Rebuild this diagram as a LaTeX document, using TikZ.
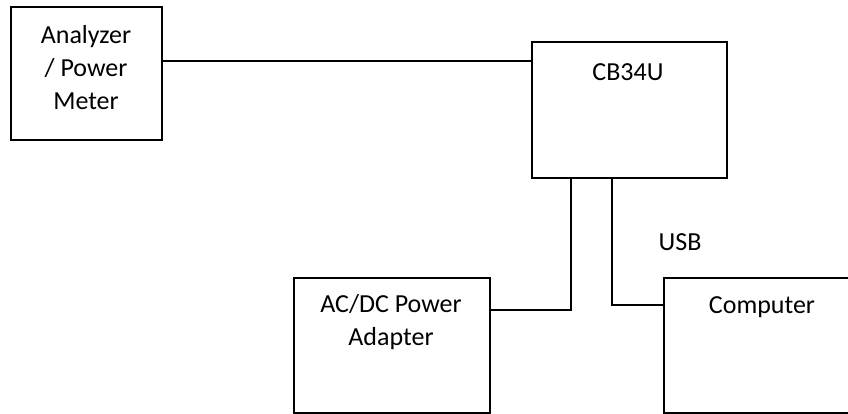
\documentclass[tikz,border=0pt]{standalone}
\usepackage{fontspec}
\setmainfont{Carlito}
\usetikzlibrary{positioning}

\begin{document}
\begin{tikzpicture}[x=1pt,y=-1pt,line width=1.6pt,
      box/.style={draw,rectangle,inner sep=0pt},
      txt/.style={font=\fontsize{26}{33}\selectfont,align=center,inner sep=0pt}]
      \useasboundingbox (0,0) rectangle (848,414);

      \node[box,minimum width=151pt,minimum height=133pt] (ana) at (86.5,73.5) {};
      \node[box,minimum width=195pt,minimum height=136pt] (cb) at (629.5,110) {};
      \node[box,minimum width=196pt,minimum height=135pt] (acdc) at (392,345.5) {};
      \node[box,minimum width=210pt,minimum height=135pt] (comp) at (769,345.5) {};

      \node[txt] (anatxt) at (86,68) {Analyzer\\/ Power\\Meter};
      \node[txt] (cbtxt) at (628,72) {CB34U};
      \node[txt] (acdctxt) at (391,322) {AC/DC Power\\Adapter};
      \node[txt] (comptxt) at (762,307) {Computer};
      \node[txt] (usb) at (680,242) {USB};

      \coordinate (ain) at ([yshift=12.5pt]ana.east);
      \coordinate (pwr) at ([xshift=-58.5pt]cb.south);
      \coordinate (usbout) at ([xshift=-17.5pt]cb.south);

      \draw (ain) -- (ain -| cb.west);
      \draw (pwr) |- ([yshift=35.5pt]acdc.east);
      \draw (usbout) |- ([yshift=40.5pt]comp.west);
\end{tikzpicture}
\end{document}
